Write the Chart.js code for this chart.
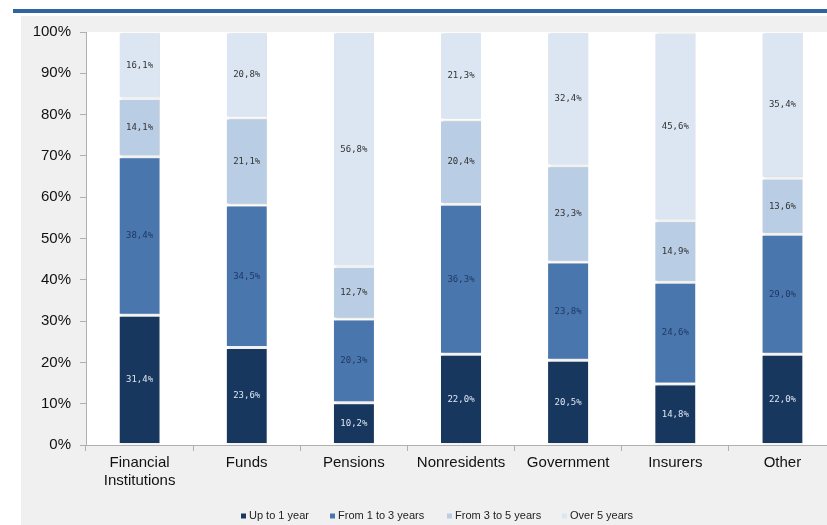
<!DOCTYPE html>
<html>
<head>
<meta charset="utf-8">
<script src="https://cdn.jsdelivr.net/npm/chart.js@4.4.1/dist/chart.umd.min.js"></script>
<style>
  html, body { margin: 0; padding: 0; background: #ffffff; overflow: hidden; }
  #wrap { position: relative; width: 850px; height: 525px; }
</style>
</head>
<body>
<div id="wrap"><canvas id="c" width="850" height="525"></canvas></div>
<script>
// Holder categories
const categories = [['Financial', 'Institutions'], 'Funds', 'Pensions', 'Nonresidents', 'Government', 'Insurers', 'Other'];

// Share of holdings by residual maturity (%)
const upTo1Year   = [31.4, 23.6, 10.2, 22.0, 20.5, 14.8, 22.0];
const from1To3    = [38.4, 34.5, 20.3, 36.3, 23.8, 24.6, 29.0];
const from3To5    = [14.1, 21.1, 12.7, 20.4, 23.3, 14.9, 13.6];
const over5Years  = [16.1, 20.8, 56.8, 21.3, 32.4, 45.6, 35.4];

const seriesNames = ['Up to 1 year', 'From 1 to 3 years', 'From 3 to 5 years', 'Over 5 years'];
const yTickValues = [0, 10, 20, 30, 40, 50, 60, 70, 80, 90, 100];

const fills = ['#17375e', '#4a76ae', '#b9cde5', '#dce6f2'];
const labelInk = ['#dce6f2', '#1f3864', '#333333', '#333333'];
const legendInk = ['#17375e', '#4a76ae', '#b9cde5', '#dce6f2'];

const seriesValues = [upTo1Year, from1To3, from3To5, over5Years];

const datasets = seriesValues.map((vals, i) => ({
  label: seriesNames[i],
  data: vals,
  backgroundColor: fills[i],
  borderColor: '#ffffff',
  borderWidth: { top: 1.5, bottom: 1.5, left: 0, right: 0 },
  borderSkipped: false,
  barPercentage: 0.75,
  categoryPercentage: 0.5
}));

// Page frame: blue rule, grey panel, white plot area
const framePlugin = {
  id: 'frame',
  beforeDraw(chart) {
    const ctx = chart.ctx;
    const a = chart.chartArea;
    ctx.save();
    ctx.fillStyle = '#ffffff';
    ctx.fillRect(0, 0, chart.width, chart.height);
    ctx.fillStyle = '#f0f0f0';
    ctx.fillRect(21, 16, chart.width - 21, chart.height - 16);
    ctx.fillStyle = '#2f63a1';
    ctx.fillRect(13, 9, chart.width - 13, 4);
    ctx.fillStyle = '#ffffff';
    ctx.fillRect(a.left, a.top, a.right - a.left, a.bottom - a.top);
    ctx.restore();
  }
};

// Soft shadow on the right edge of each column
const shadowPlugin = {
  id: 'barShadow',
  beforeDatasetsDraw(chart) {
    const ctx = chart.ctx;
    ctx.save();
    ctx.shadowColor = 'rgba(0,0,0,0.18)';
    ctx.shadowOffsetX = 2;
    ctx.shadowOffsetY = 0;
    ctx.shadowBlur = 2;
  },
  afterDatasetsDraw(chart) {
    chart.ctx.restore();
  }
};

// Value labels centred in each segment
const valueLabelPlugin = {
  id: 'valueLabels',
  afterDatasetsDraw(chart) {
    const ctx = chart.ctx;
    ctx.save();
    ctx.font = '9px "DejaVu Sans Mono", monospace';
    ctx.textAlign = 'center';
    ctx.textBaseline = 'middle';
    chart.data.datasets.forEach((ds, di) => {
      const meta = chart.getDatasetMeta(di);
      meta.data.forEach((bar, i) => {
        const v = ds.data[i];
        const mid = (bar.y + bar.base) / 2;
        ctx.fillStyle = labelInk[di];
        ctx.fillText(v.toFixed(1).replace('.', ',') + '%', bar.x, mid);
      });
    });
    ctx.restore();
  }
};

// Legend row along the bottom
const legendPlugin = {
  id: 'bottomLegend',
  afterDraw(chart) {
    const ctx = chart.ctx;
    ctx.save();
    ctx.font = '11px "Liberation Sans", Arial, sans-serif';
    ctx.textBaseline = 'middle';
    const y = 516;
    const starts = [241, 330, 447, 562];
    chart.data.datasets.forEach((ds, i) => {
      const x = starts[i];
      ctx.fillStyle = legendInk[i];
      ctx.fillRect(x, y - 2.5, 5, 5);
      ctx.fillStyle = '#222222';
      ctx.textAlign = 'left';
      ctx.fillText(ds.label, x + 8, y);
    });
    ctx.restore();
  }
};

new Chart(document.getElementById('c'), {
  type: 'bar',
  data: { labels: categories, datasets },
  options: {
    responsive: false,
    animation: false,
    layout: { padding: { left: 0, right: 14, top: 32, bottom: 0 } },
    plugins: {
      legend: { display: false },
      tooltip: { enabled: false }
    },
    scales: {
      x: {
        stacked: true,
        offset: true,
        afterFit(scale) { scale.height = 80; },
        grid: {
          display: true,
          offset: true,
          drawOnChartArea: false,
          drawTicks: true,
          tickLength: 6,
          color: '#b0b0b0'
        },
        border: { display: true, color: '#b0b0b0', width: 1 },
        ticks: {
          color: '#111111',
          padding: 3,
          maxRotation: 0,
          autoSkip: false,
          font: { family: '"Liberation Sans", Arial, sans-serif', size: 15 }
        }
      },
      y: {
        stacked: true,
        min: 0,
        max: 100,
        afterFit(scale) { scale.width = 86; },
        afterBuildTicks(scale) { scale.ticks = yTickValues.map(v => ({ value: v })); },
        grid: {
          display: true,
          drawOnChartArea: false,
          drawTicks: true,
          tickLength: 6,
          color: '#b0b0b0'
        },
        border: { display: true, color: '#b0b0b0', width: 1 },
        ticks: {
          color: '#111111',
          padding: 9,
          callback: v => v + '%',
          font: { family: '"Liberation Sans", Arial, sans-serif', size: 15 }
        }
      }
    }
  },
  plugins: [framePlugin, shadowPlugin, valueLabelPlugin, legendPlugin]
});
</script>
</body>
</html>
